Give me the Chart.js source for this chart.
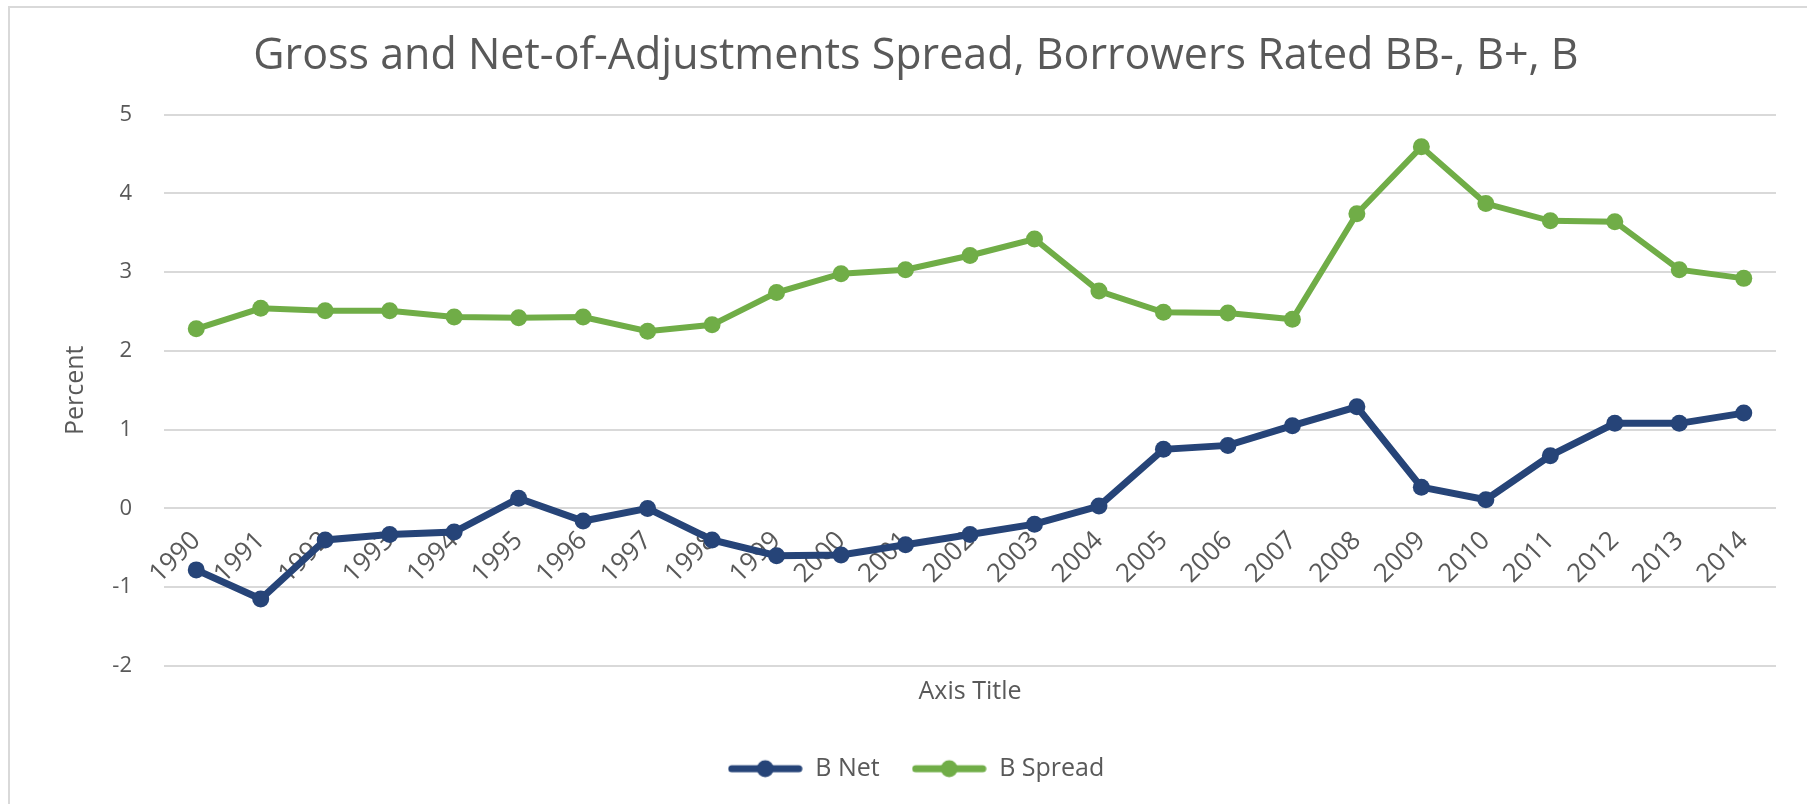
<!DOCTYPE html>
<html>
<head>
<meta charset="utf-8">
<title>Gross and Net-of-Adjustments Spread</title>
<script src="https://cdn.jsdelivr.net/npm/chart.js@4.4.0/dist/chart.umd.min.js"></script>
<style>
  html, body { margin: 0; padding: 0; background: #ffffff; overflow: hidden; }
  #wrap { position: relative; width: 1807px; height: 804px; }
  #frame { position: absolute; left: 8px; top: 6px; width: 1830px; height: 830px;
           border: 2px solid #d9d9d9; box-sizing: border-box; }
  #chart { position: absolute; left: 0; top: 0; }
</style>
</head>
<body>
<div id="wrap">
  <div id="frame"></div>
  <canvas id="chart" width="1807" height="804"></canvas>
</div>

<script type="text/javascript">

// data
const years = ['1990', '1991', '1992', '1993', '1994', '1995', '1996', '1997', '1998', '1999',
               '2000', '2001', '2002', '2003', '2004', '2005', '2006', '2007', '2008', '2009',
               '2010', '2011', '2012', '2013', '2014'];

const b_net = [-0.78, -1.15, -0.40, -0.33, -0.30, 0.13, -0.16, 0.00, -0.40, -0.60,
               -0.59, -0.46, -0.33, -0.20, 0.03, 0.75, 0.80, 1.05, 1.29, 0.27,
               0.11, 0.67, 1.08, 1.08, 1.21];

const b_spread = [2.28, 2.54, 2.51, 2.51, 2.43, 2.42, 2.43, 2.25, 2.33, 2.74,
                  2.98, 3.03, 3.21, 3.42, 2.76, 2.49, 2.48, 2.40, 3.74, 4.59,
                  3.87, 3.65, 3.64, 3.03, 2.92];

const y_min = -2;
const y_max = 5;
const y_step = 1;

const blue = '#264478';
const green = '#70ad47';
const text_grey = '#595959';
const font_name = '"Open Sans"';

// little line-with-dot picture for the legend
function legendIcon(color) {
    const c = document.createElement('canvas');
    c.width = 75;
    c.height = 20;
    const g = c.getContext('2d');
    g.strokeStyle = color;
    g.lineWidth = 7;
    g.lineCap = 'round';
    g.beginPath();
    g.moveTo(4, 10);
    g.lineTo(71, 10);
    g.stroke();
    g.fillStyle = color;
    g.beginPath();
    g.arc(37.5, 10, 8.5, 0, Math.PI * 2);
    g.fill();
    return c;
}
const icons = [legendIcon(blue), legendIcon(green)];

Chart.defaults.font.family = font_name;
Chart.defaults.color = text_grey;

const ctx = document.getElementById('chart').getContext('2d');

new Chart(ctx, {
    type: 'line',
    data: {
        labels: years,
        datasets: [
            {
                label: 'B Net',
                data: b_net,
                borderColor: blue,
                backgroundColor: blue,
                borderWidth: 7,
                pointRadius: 8.5,
                pointBorderWidth: 0,
                pointBackgroundColor: blue,
                tension: 0
            },
            {
                label: 'B Spread',
                data: b_spread,
                borderColor: green,
                backgroundColor: green,
                borderWidth: 6,
                pointRadius: 8.5,
                pointBorderWidth: 0,
                pointBackgroundColor: green,
                tension: 0
            }
        ]
    },
    options: {
        responsive: false,
        animation: false,
        devicePixelRatio: 1,
        // left padding is wide so the legend centres where the reference has it
        layout: { padding: { left: 56, right: 31, top: 0, bottom: 12.8 } },
        plugins: {
            title: {
                display: true,
                text: 'Gross and Net-of-Adjustments Spread, Borrowers Rated BB-, B+, B',
                color: text_grey,
                font: { size: 43, weight: 'normal' },
                padding: { top: 30.5, bottom: 32.4 }
            },
            legend: {
                position: 'bottom',
                labels: {
                    usePointStyle: true,
                    pointStyleWidth: 75,
                    padding: 32,
                    color: text_grey,
                    font: { size: 25 },
                    generateLabels: (chart) => {
                        const items = Chart.defaults.plugins.legend.labels.generateLabels(chart);
                        items.forEach((it, i) => { it.pointStyle = icons[i]; });
                        return items;
                    }
                }
            },
            tooltip: { enabled: false }
        },
        scales: {
            x: {
                position: { y: 0 },
                offset: true,
                grid: { display: false, drawTicks: false },
                border: { display: false },
                ticks: {
                    color: text_grey,
                    font: { size: 26 },
                    minRotation: 45,
                    maxRotation: 45,
                    padding: 17,
                    autoSkip: false
                }
            },
            x2: {
                type: 'category',
                position: 'bottom',
                grid: { display: false, drawTicks: false },
                border: { display: false },
                ticks: { display: false },
                title: {
                    display: true,
                    text: 'Axis Title',
                    color: text_grey,
                    font: { size: 25 },
                    padding: { top: 11, bottom: 17.2 }
                }
            },
            y: {
                min: y_min,
                max: y_max,
                afterFit: (scale) => { scale.width = 108; },
                grid: { color: '#d9d9d9', lineWidth: 2, drawTicks: false },
                border: { display: false },
                ticks: {
                    stepSize: y_step,
                    color: text_grey,
                    font: { size: 22 },
                    padding: 32
                },
                title: {
                    display: true,
                    text: 'Percent',
                    color: text_grey,
                    font: { size: 25 },
                    padding: { top: 5, bottom: 10 }
                }
            }
        }
    }
});
</script>
</body>
</html>
